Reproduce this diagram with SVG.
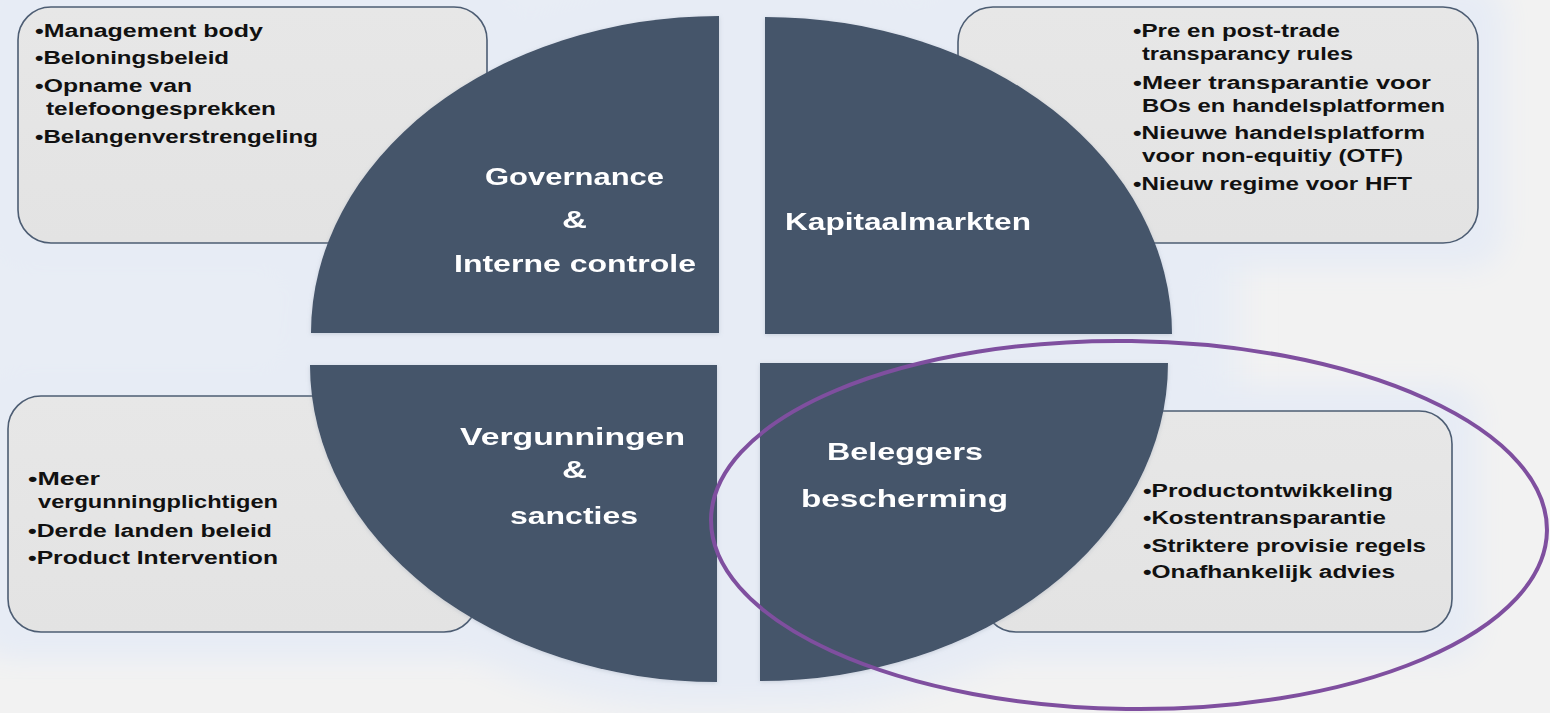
<svg xmlns="http://www.w3.org/2000/svg" xmlns:xlink="http://www.w3.org/1999/xlink" width="1550" height="713" viewBox="0 0 1550 713">
<style>
.box{fill:url(#boxg);stroke:#4d5d73;stroke-width:1.6}
.quad{fill:#44546a}
.bt{font-family:"Liberation Sans",Arial,sans-serif;font-weight:bold;font-size:18px;fill:#111}
.tt{font-family:"Liberation Sans",Arial,sans-serif;font-weight:bold;font-size:24px;fill:#ffffff}
.hl{fill:none;stroke:#7f4f9f;stroke-width:4}
</style>
<defs>
<linearGradient id="boxg" x1="0" y1="0" x2="0" y2="1">
<stop offset="0" stop-color="#e7e7e7"/>
<stop offset="1" stop-color="#e3e3e3"/>
</linearGradient>
<filter id="glow" x="-15%" y="-15%" width="130%" height="130%">
<feMorphology in="SourceAlpha" operator="dilate" radius="26" result="d"/>
<feGaussianBlur in="d" stdDeviation="14" result="b"/>
<feFlood flood-color="#e7ecf5"/>
<feComposite in2="b" operator="in"/>
</filter>
<filter id="blur" x="-10%" y="-10%" width="120%" height="120%">
<feGaussianBlur stdDeviation="16"/>
</filter>
<filter id="soft" x="-5%" y="-5%" width="110%" height="110%">
<feGaussianBlur in="SourceAlpha" stdDeviation="2" result="s"/>
<feOffset dx="0" dy="1" result="o"/>
<feFlood flood-color="#8a96a8" flood-opacity="0.35"/>
<feComposite in2="o" operator="in" result="sh"/>
<feMerge><feMergeNode in="sh"/><feMergeNode in="SourceGraphic"/></feMerge>
</filter>
<rect id="rTL" x="18" y="7" width="469" height="236" rx="33"/>
<rect id="rTR" x="958" y="7" width="520" height="236" rx="35"/>
<rect id="rBL" x="8" y="396" width="469" height="236" rx="33"/>
<rect id="rBR" x="983" y="411" width="469" height="221" rx="33"/>
<path id="pTL" d="M719,333 L311,333 A408,317 0 0 1 719,16 Z"/>
<path id="pTR" d="M765,334 L765,17 A407,317 0 0 1 1172,334 Z"/>
<path id="pBL" d="M717,365 L310,365 A407,317 0 0 0 717,682 Z"/>
<path id="pBR" d="M760,363 L1168,363 A408,318 0 0 1 760,681 Z"/>
</defs>
<rect x="0" y="0" width="1550" height="713" fill="#f2f2f2"/>
<rect x="-40" y="-40" width="1280" height="680" fill="#e8edf5" filter="url(#blur)"/>
<g id="background-glow" filter="url(#glow)">
<use xlink:href="#rTL"/><use xlink:href="#rTR"/><use xlink:href="#rBL"/><use xlink:href="#rBR"/>
<use xlink:href="#pTL"/><use xlink:href="#pTR"/><use xlink:href="#pBL"/><use xlink:href="#pBR"/>
</g>

<g id="box-governance">
<use xlink:href="#rTL" class="box"/>
<text class="bt" x="35" y="37" textLength="228" lengthAdjust="spacingAndGlyphs">•Management body</text>
<text class="bt" x="35" y="64" textLength="194" lengthAdjust="spacingAndGlyphs">•Beloningsbeleid</text>
<text class="bt" x="35" y="92" textLength="157" lengthAdjust="spacingAndGlyphs">•Opname van</text>
<text class="bt" x="46" y="115" textLength="230" lengthAdjust="spacingAndGlyphs">telefoongesprekken</text>
<text class="bt" x="35" y="143" textLength="283" lengthAdjust="spacingAndGlyphs">•Belangenverstrengeling</text>
</g>

<g id="box-kapitaalmarkten">
<use xlink:href="#rTR" class="box"/>
<text class="bt" x="1133" y="37" textLength="207" lengthAdjust="spacingAndGlyphs">•Pre en post-trade</text>
<text class="bt" x="1142" y="60" textLength="211" lengthAdjust="spacingAndGlyphs">transparancy rules</text>
<text class="bt" x="1133" y="89" textLength="298" lengthAdjust="spacingAndGlyphs">•Meer transparantie voor</text>
<text class="bt" x="1142" y="112" textLength="303" lengthAdjust="spacingAndGlyphs">BOs en handelsplatformen</text>
<text class="bt" x="1133" y="139" textLength="292" lengthAdjust="spacingAndGlyphs">•Nieuwe handelsplatform</text>
<text class="bt" x="1142" y="162" textLength="261" lengthAdjust="spacingAndGlyphs">voor non-equitiy (OTF)</text>
<text class="bt" x="1133" y="190" textLength="279" lengthAdjust="spacingAndGlyphs">•Nieuw regime voor HFT</text>
</g>

<g id="box-vergunningen">
<use xlink:href="#rBL" class="box"/>
<text class="bt" x="28" y="485" textLength="72" lengthAdjust="spacingAndGlyphs">•Meer</text>
<text class="bt" x="38" y="508" textLength="240" lengthAdjust="spacingAndGlyphs">vergunningplichtigen</text>
<text class="bt" x="28" y="537" textLength="244" lengthAdjust="spacingAndGlyphs">•Derde landen beleid</text>
<text class="bt" x="28" y="564" textLength="250" lengthAdjust="spacingAndGlyphs">•Product Intervention</text>
</g>

<g id="box-beleggers">
<use xlink:href="#rBR" class="box"/>
<text class="bt" x="1143" y="497" textLength="250" lengthAdjust="spacingAndGlyphs">•Productontwikkeling</text>
<text class="bt" x="1143" y="524" textLength="243" lengthAdjust="spacingAndGlyphs">•Kostentransparantie</text>
<text class="bt" x="1143" y="552" textLength="283" lengthAdjust="spacingAndGlyphs">•Striktere provisie regels</text>
<text class="bt" x="1143" y="578" textLength="252" lengthAdjust="spacingAndGlyphs">•Onafhankelijk advies</text>
</g>

<g id="quad-governance" filter="url(#soft)">
<use xlink:href="#pTL" class="quad"/>
<text class="tt" x="485" y="185" textLength="179" lengthAdjust="spacingAndGlyphs">Governance</text>
<text class="tt" x="562" y="228" textLength="25" lengthAdjust="spacingAndGlyphs">&amp;</text>
<text class="tt" x="454" y="272" textLength="242" lengthAdjust="spacingAndGlyphs">Interne controle</text>
</g>

<g id="quad-kapitaalmarkten" filter="url(#soft)">
<use xlink:href="#pTR" class="quad"/>
<text class="tt" x="785" y="230" textLength="246" lengthAdjust="spacingAndGlyphs">Kapitaalmarkten</text>
</g>

<g id="quad-vergunningen" filter="url(#soft)">
<use xlink:href="#pBL" class="quad"/>
<text class="tt" x="460" y="445" textLength="225" lengthAdjust="spacingAndGlyphs">Vergunningen</text>
<text class="tt" x="562" y="478" textLength="25" lengthAdjust="spacingAndGlyphs">&amp;</text>
<text class="tt" x="510" y="524" textLength="128" lengthAdjust="spacingAndGlyphs">sancties</text>
</g>

<g id="quad-beleggers" filter="url(#soft)">
<use xlink:href="#pBR" class="quad"/>
<text class="tt" x="827" y="460" textLength="156" lengthAdjust="spacingAndGlyphs">Beleggers</text>
<text class="tt" x="801" y="507" textLength="207" lengthAdjust="spacingAndGlyphs">bescherming</text>
</g>

<g id="connectors"></g>

<g id="highlight">
<ellipse class="hl" cx="1129" cy="525" rx="418" ry="184" transform="rotate(0.8 1129 525)"/>
</g>
</svg>
